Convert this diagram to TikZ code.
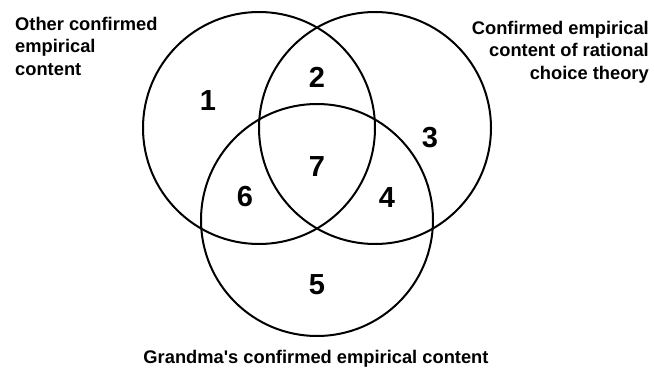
\documentclass[tikz,border=0pt]{standalone}
\usepackage{fontspec}
\setmainfont{Liberation Sans}
\begin{document}
\begin{tikzpicture}[x=1pt,y=-1pt,
  setcircle/.style={circle, draw=black, line width=2pt, minimum size=232pt, inner sep=0pt},
  region/.style={font=\bfseries\fontsize{29}{32}\selectfont, inner sep=0pt},
  caption/.style={font=\bfseries\fontsize{18.3}{22.5}\selectfont, inner sep=0pt}]
  \useasboundingbox (0,0) rectangle (654,369);
  % the three sets
  \node[setcircle] (L) at (259,128) {};
  \node[setcircle] (R) at (375,128) {};
  \node[setcircle] (B) at (317,220) {};
  % region numbers
  \node[region] (n1) at (208,101) {1};
  \node[region] (n2) at (317,77) {2};
  \node[region] (n3) at (430,138) {3};
  \node[region] (n7) at (317,167) {7};
  \node[region] (n6) at (245,197) {6};
  \node[region] (n4) at (387,198) {4};
  \node[region] (n5) at (317,285) {5};
  % set captions
  \node[caption, anchor=north west, align=left] (capL) at (15,17)
    {Other confirmed\\empirical\\content};
  \node[caption, anchor=north east, align=right] (capR) at (649,21)
    {Confirmed empirical\\content of rational\\choice theory};
  \node[caption] (capB) at (316,359) {Grandma\textquotesingle s confirmed empirical content};
\end{tikzpicture}
\end{document}
